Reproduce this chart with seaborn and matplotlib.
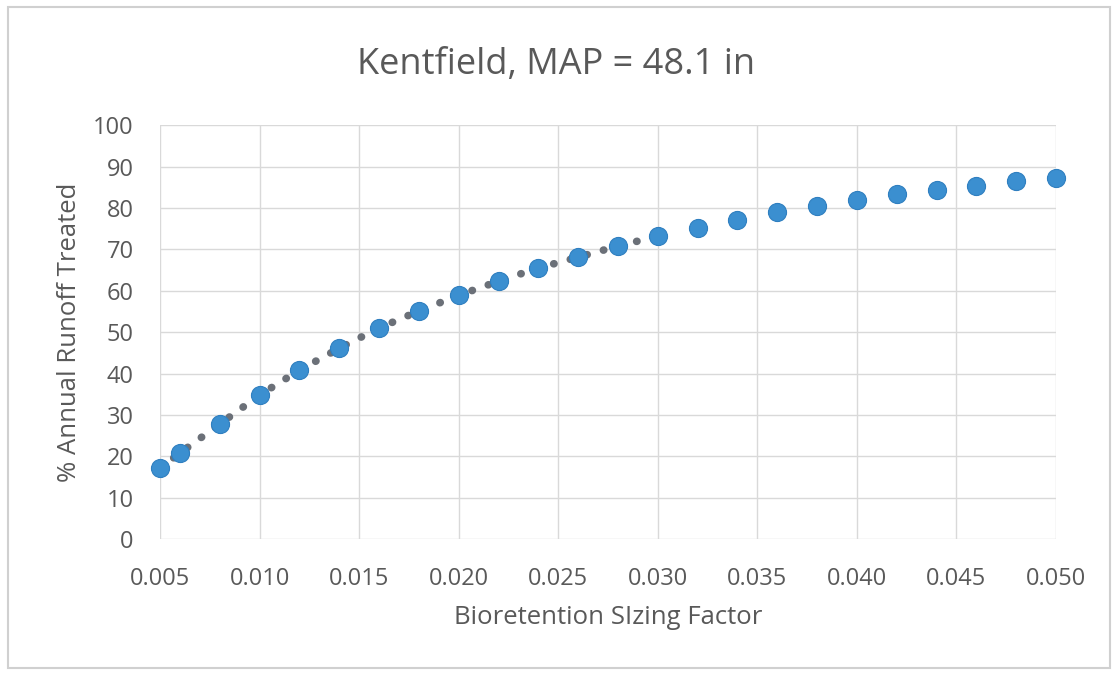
import matplotlib
matplotlib.use("Agg")
import matplotlib.pyplot as plt
import seaborn as sns
import pandas as pd

# Bioretention sizing factor vs % annual runoff treated
sizing_factor = [0.005, 0.006, 0.008, 0.010, 0.012, 0.014, 0.016, 0.018, 0.020,
                 0.022, 0.024, 0.026, 0.028, 0.030, 0.032, 0.034, 0.036, 0.038,
                 0.040, 0.042, 0.044, 0.046, 0.048, 0.050]
pct_treated = [17.1, 20.8, 27.8, 34.8, 40.8, 46.1, 51.0, 55.1, 58.9,
               62.3, 65.5, 68.1, 70.8, 73.2, 75.1, 77.1, 79.0, 80.4,
               81.9, 83.3, 84.3, 85.3, 86.5, 87.2]
x_ticks = [0.005, 0.010, 0.015, 0.020, 0.025, 0.030, 0.035, 0.040, 0.045, 0.050]
y_ticks = [0, 10, 20, 30, 40, 50, 60, 70, 80, 90, 100]

df = pd.DataFrame({"x": sizing_factor, "y": pct_treated})
trend = df[df["x"] <= 0.030]

sns.set_theme(style="whitegrid")
plt.rcParams["font.family"] = ["Open Sans", "DejaVu Sans"]

fig = plt.figure(figsize=(11.13, 6.73), dpi=100)
ax = fig.add_axes([0.1438, 0.199, 0.805, 0.615])

# dotted trend line over the first part of the series
sns.lineplot(data=trend, x="x", y="y", ax=ax, color="#6b7078",
             linestyle=(0, (0.05, 2.2)), linewidth=5.5, dash_capstyle="round",
             zorder=2)
sns.scatterplot(data=df, x="x", y="y", ax=ax, color="#3b8fd0", s=170,
                edgecolor="#2f7fc0", linewidth=0.8, zorder=3, clip_on=False)

ax.set_xlim(0.005, 0.050)
ax.set_ylim(0, 100)
ax.set_xticks(x_ticks)
ax.set_xticklabels([f"{t:.3f}" for t in x_ticks])
ax.set_yticks(y_ticks)
ax.grid(True, color="#d9d9d9", linewidth=1)
for s in ax.spines.values():
    s.set_visible(False)
ax.tick_params(colors="#595959", labelsize=17, length=0)
ax.tick_params(axis="x", pad=20)
ax.tick_params(axis="y", pad=19)

ax.set_xlabel("Bioretention SIzing Factor", fontsize=18.5, color="#595959", labelpad=10)
ax.set_ylabel("% Annual Runoff Treated", fontsize=18.5, color="#595959", labelpad=8)
fig.suptitle("Kentfield, MAP = 48.1 in", fontsize=26, color="#595959",
             y=0.903, va="center")

# light border around the chart area
fig.patches.append(plt.Rectangle((0.007, 0.008), 0.99, 0.982, transform=fig.transFigure,
                                 fill=False, edgecolor="#d0d0d0", linewidth=1.5))

fig.savefig("out.png", dpi=100)
